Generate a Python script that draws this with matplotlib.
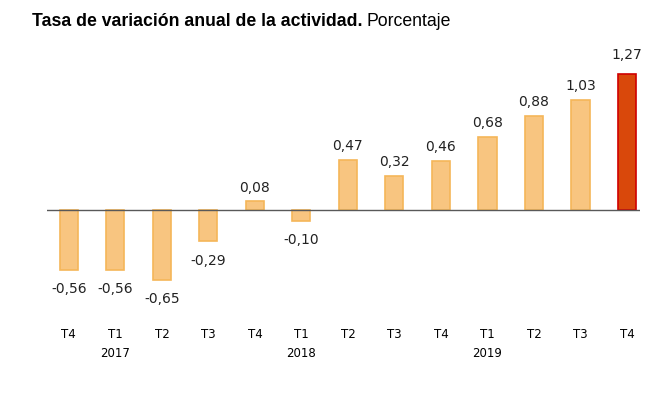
import matplotlib
matplotlib.use("Agg")
import matplotlib.pyplot as plt

# datos
trimestres = ["T4", "T1", "T2", "T3", "T4", "T1", "T2", "T3", "T4", "T1", "T2", "T3", "T4"]
anios = ["", "2017", "", "", "", "2018", "", "", "", "2019", "", "", ""]
valores = [-0.56, -0.56, -0.65, -0.29, 0.08, -0.10, 0.47, 0.32, 0.46, 0.68, 0.88, 1.03, 1.27]

W, H = 660, 397
fig = plt.figure(figsize=(W / 100, H / 100), dpi=100)
# ejes en pixeles: x 47..640, y 60..300
ax = fig.add_axes([47 / W, 1 - 300 / H, (640 - 47) / W, 240 / H])

x = list(range(len(valores)))
ultimo = len(valores) - 1
colores = ["#F8C580"] * ultimo + ["#D9480B"]
bordes = ["#F5B659"] * ultimo + ["#D00000"]
ax.bar(x, valores, width=0.39, color=colores, edgecolor=bordes, linewidth=1.2, zorder=2)
ax.axhline(0, color="#595959", linewidth=1, zorder=3)

ax.set_xlim(-0.47, 12.28)
ax.set_ylim(-0.841, 1.402)

for xi, v in zip(x, valores):
    txt = f"{v:.2f}".replace(".", ",")
    if v >= 0:
        off = 9 if xi == ultimo else 5
        ax.annotate(txt, (xi, v), xytext=(0, off), textcoords="offset points",
                    ha="center", va="bottom", fontsize=10, color="#222222")
    else:
        ax.annotate(txt, (xi, v), xytext=(0, -9), textcoords="offset points",
                    ha="center", va="top", fontsize=10, color="#222222")

ax.set_xticks(x)
ax.set_xticklabels([t if a == "" else t + "\n" + a for t, a in zip(trimestres, anios)],
                   fontsize=8.5, color="#000000", linespacing=1.6)
ax.tick_params(axis="x", length=0, pad=20)
ax.set_yticks([])
for s in ax.spines.values():
    s.set_visible(False)

# titulo: parte en negrita y parte normal
t1 = fig.text(32 / W, 1 - 22 / H, "Tasa de variación anual de la actividad.",
              fontsize=12.7, fontweight="bold", family="Liberation Sans", va="center")
fig.canvas.draw()
bb = t1.get_window_extent()
fig.text((bb.x1 + 4) / W, 1 - 22 / H, "Porcentaje", fontsize=12.7,
         family="Liberation Sans", va="center")

fig.savefig("out.png", dpi=100)
